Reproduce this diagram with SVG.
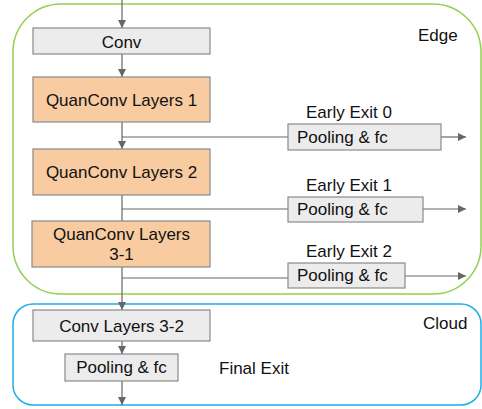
<svg xmlns="http://www.w3.org/2000/svg" width="482" height="409" viewBox="0 0 482 409">
<defs>
<marker id="ah" markerUnits="userSpaceOnUse" markerWidth="10" markerHeight="10" viewBox="0 0 10 10" refX="9" refY="5" orient="auto">
<path d="M1,1 L9,5 L1,9 Z" fill="#666"/>
</marker>
</defs>
<style>
text{font-family:"Liberation Sans",Arial,sans-serif;font-size:17px;fill:#111}
.g{fill:#ececec;stroke:#8a8a8a;stroke-width:1.2}
.o{fill:#f8cba0;stroke:#8a8a8a;stroke-width:1.2}
.c{stroke:#666;stroke-width:1.2;fill:none}
.m{text-anchor:middle}
</style>
<g id="edge-region">
<rect x="13" y="4" width="468" height="290" rx="48" ry="48" fill="none" stroke="#92d050" stroke-width="1.5"/>
<text x="418" y="41">Edge</text>
</g>
<g id="cloud-region">
<rect x="13" y="304" width="468" height="101" rx="20" ry="20" fill="none" stroke="#1ab0ea" stroke-width="1.5"/>
<text x="423" y="329">Cloud</text>
</g>
<g id="connectors">
<line class="c" x1="122" y1="0" x2="122" y2="28" marker-end="url(#ah)"/>
<line class="c" x1="122" y1="54" x2="122" y2="77" marker-end="url(#ah)"/>
<line class="c" x1="122" y1="122" x2="122" y2="149" marker-end="url(#ah)"/>
<line class="c" x1="122" y1="137" x2="288" y2="137"/>
<line class="c" x1="441" y1="137" x2="466" y2="137" marker-end="url(#ah)"/>
<line class="c" x1="122" y1="195" x2="122" y2="221"/>
<line class="c" x1="122" y1="209" x2="288" y2="209"/>
<line class="c" x1="423" y1="209" x2="466" y2="209" marker-end="url(#ah)"/>
<line class="c" x1="122" y1="267" x2="122" y2="310" marker-end="url(#ah)"/>
<line class="c" x1="122" y1="278" x2="288" y2="278"/>
<line class="c" x1="405" y1="276" x2="466" y2="276" marker-end="url(#ah)"/>
<line class="c" x1="122" y1="341" x2="122" y2="354" marker-end="url(#ah)"/>
<line class="c" x1="122" y1="381" x2="122" y2="405" marker-end="url(#ah)"/>
</g>
<g id="conv"><rect class="g" x="33" y="28" width="177" height="26"/><text class="m" x="121.5" y="48">Conv</text></g>
<g id="qc1"><rect class="o" x="33" y="77" width="177" height="45"/><text class="m" x="121.5" y="106">QuanConv Layers 1</text></g>
<g id="qc2"><rect class="o" x="33" y="149" width="177" height="46"/><text class="m" x="121.5" y="178">QuanConv Layers 2</text></g>
<g id="qc31"><rect class="o" x="32" y="221" width="178" height="46"/><text class="m" x="121.5" y="240">QuanConv Layers</text><text class="m" x="121.5" y="260">3-1</text></g>
<g id="exit0"><text x="306" y="118">Early Exit 0</text><rect class="g" x="288" y="124" width="153" height="26"/><text x="297" y="143">Pooling &amp; fc</text></g>
<g id="exit1"><text x="306" y="191">Early Exit 1</text><rect class="g" x="288" y="197" width="135" height="25"/><text x="297" y="215">Pooling &amp; fc</text></g>
<g id="exit2"><text x="306" y="257">Early Exit 2</text><rect class="g" x="288" y="263" width="117" height="25"/><text x="297" y="281">Pooling &amp; fc</text></g>
<g id="conv32"><rect class="g" x="33" y="310" width="177" height="31"/><text class="m" x="121.5" y="332">Conv Layers 3-2</text></g>
<g id="final"><rect class="g" x="65" y="354" width="113" height="27"/><text class="m" x="121.5" y="373">Pooling &amp; fc</text><text x="219" y="374">Final Exit</text></g>
</svg>
